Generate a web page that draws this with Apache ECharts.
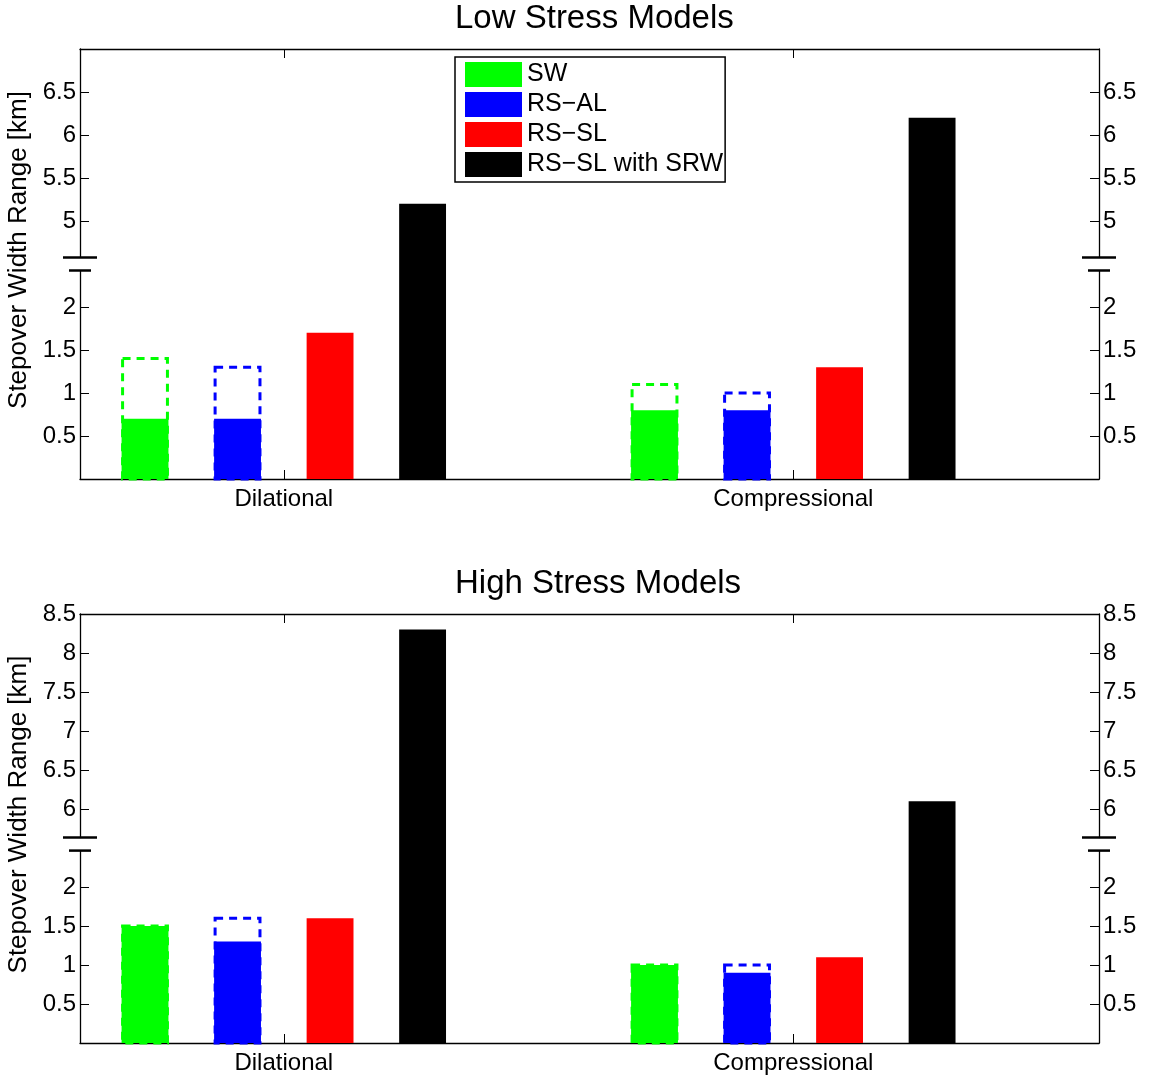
<!DOCTYPE html>
<html>
<head>
<meta charset="utf-8">
<script src="https://cdn.jsdelivr.net/npm/echarts@6.0.0/dist/echarts.min.js"></script>
<style>
html, body {margin: 0; padding: 0; background: #fff;}
#chart {width: 1152px; height: 1078px;}
</style>
</head>
<body>
<div id="chart"></div>
<script>
var categories = ['Dilational', 'Compressional'];
var seriesNames = ['SW', 'RS\u2212AL', 'RS\u2212SL', 'RS\u2212SL with SRW'];
var seriesColors = ['#00ff00', '#0000ff', '#ff0000', '#000000'];

// solid bar = lower value, dashed box = upper end of the range (null = no range)
var lowSolid = [[0.7, 0.8], [0.7, 0.8], [1.7, 1.3], [5.2, 6.2]];
var lowDashed = [[1.4, 1.1], [1.3, 1.0], null, null];
var highSolid = [[1.5, 1.0], [1.3, 0.9], [1.6, 1.1], [8.3, 6.1]];
var highDashed = [[1.5, 1.0], [1.6, 1.0], null, null];

var lowTicks = [0.5, 1, 1.5, 2, 5, 5.5, 6, 6.5];
var highTicks = [0.5, 1, 1.5, 2, 6, 6.5, 7, 7.5, 8, 8.5];

// broken y axis: everything above "at" is pulled down by "skip"
var lowBreak = {at: 2.5, skip: 2, top: 7};
var highBreak = {at: 2.55, skip: 3, top: 8.5};

var FONT = '"Liberation Sans", Helvetica, Arial, sans-serif';
var BAR_STEP = 0.1816;
var BAR_W = 0.092;

function toPlot(v, br) { return v > br.at ? v - br.skip : v; }
function toReal(p, br) { return p > br.at ? p + br.skip : p; }

var chart = echarts.init(document.getElementById('chart'));

function makeAxes(gi, br, ticks) {
    var yMax = br.top - br.skip;
    var tickPos = ticks.map(function (t) { return toPlot(t, br); });
    var line = {show: true, onZero: false, lineStyle: {color: '#000', width: 1.3}};
    var xs = [false, true].map(function (isTop) {
        return {
            gridIndex: gi, type: 'value', min: 0.6, max: 2.6,
            position: isTop ? 'top' : 'bottom',
            axisLine: line,
            axisTick: {show: true, inside: true, length: 9, customValues: [1, 2], lineStyle: {color: '#000'}},
            axisLabel: {
                show: !isTop, customValues: [1, 2], margin: 8,
                fontSize: 24, color: '#000', fontFamily: FONT,
                formatter: function (v) { return categories[Math.round(v) - 1]; }
            },
            splitLine: {show: false}
        };
    });
    var ys = ['left', 'right'].map(function (side) {
        return {
            gridIndex: gi, type: 'value', min: 0, max: yMax, interval: 0.5,
            position: side,
            name: side === 'left' ? 'Stepover Width Range [km]' : '',
            nameLocation: 'middle', nameGap: 43,
            nameTextStyle: {fontSize: 26, color: '#000', fontFamily: FONT, padding: [0, 0, 0, 28]},
            axisLine: line,
            axisTick: {show: true, inside: true, length: 9, customValues: tickPos, lineStyle: {color: '#000'}},
            axisLabel: {
                customValues: tickPos, margin: 4,
                fontSize: 24, color: '#000', fontFamily: FONT,
                formatter: function (v) { return String(Math.round(toReal(v, br) * 10) / 10); }
            },
            splitLine: {show: false}
        };
    });
    return {x: xs, y: ys};
}

function makeSeries(gi, br, solid, dashed) {
    return seriesNames.map(function (name, j) {
        var data = categories.map(function (c, i) {
            return [i, toPlot(solid[j][i], br), dashed[j] ? toPlot(dashed[j][i], br) : -1];
        });
        var color = seriesColors[j];
        return {
            type: 'custom', name: name,
            xAxisIndex: gi * 2, yAxisIndex: gi * 2,
            itemStyle: {color: color},
            encode: {x: 0, y: [1, 2]},
            data: data,
            renderItem: function (params, api) {
                var cx = api.value(0) + 1 + (j - 1.5) * BAR_STEP;
                var lo = api.value(1), hi = api.value(2);
                var base = api.coord([cx - BAR_W / 2, 0]);
                var tip = api.coord([cx + BAR_W / 2, lo]);
                var w = tip[0] - base[0];
                var kids = [{
                    type: 'rect',
                    shape: {x: base[0], y: tip[1], width: w, height: base[1] - tip[1]},
                    style: {fill: color}
                }];
                if (hi > 0) {
                    var top = api.coord([cx, hi]);
                    kids.push({
                        type: 'rect',
                        shape: {x: base[0] + 1, y: top[1], width: w - 2, height: base[1] - top[1]},
                        style: {fill: 'none', stroke: color, lineWidth: 3, lineDash: [8, 6]}
                    });
                }
                return {type: 'group', children: kids};
            }
        };
    });
}

var lowAxes = makeAxes(0, lowBreak, lowTicks);
var highAxes = makeAxes(1, highBreak, highTicks);

chart.setOption({
    animation: false,
    backgroundColor: '#fff',
    textStyle: {fontFamily: FONT},
    title: [
        {text: 'Low Stress Models', left: 450, top: -3, textStyle: {fontSize: 33, fontWeight: 'normal', color: '#000', fontFamily: FONT}},
        {text: 'High Stress Models', left: 450, top: 562, textStyle: {fontSize: 33, fontWeight: 'normal', color: '#000', fontFamily: FONT}}
    ],
    legend: {
        orient: 'vertical', left: 455, top: 57,
        data: seriesNames.map(function (n, i) {
            return {name: n, icon: 'rect', itemStyle: {color: seriesColors[i]}};
        }),
        itemWidth: 57, itemHeight: 25, itemGap: 5,
        padding: [5, 2, 5, 10],
        borderColor: '#000', borderWidth: 1.5, backgroundColor: '#fff',
        selectedMode: false,
        textStyle: {fontSize: 25, color: '#000', fontFamily: FONT}
    },
    grid: [
        {left: 80, top: 49, width: 1019, height: 430, outerBoundsMode: 'none', containLabel: false},
        {left: 80, top: 614, width: 1019, height: 429, outerBoundsMode: 'none', containLabel: false}
    ],
    xAxis: lowAxes.x.concat(highAxes.x),
    yAxis: lowAxes.y.concat(highAxes.y),
    series: makeSeries(0, lowBreak, lowSolid, lowDashed).concat(makeSeries(1, highBreak, highSolid, highDashed))
});

// break marks on both vertical axes
function breakMarks(gi, br) {
    var els = [];
    [0.6, 2.6].forEach(function (xv) {
        var p = chart.convertToPixel({xAxisIndex: gi * 2, yAxisIndex: gi * 2}, [xv, br.at]);
        els.push({type: 'rect', z: 100, shape: {x: p[0] - 4, y: p[1] - 6, width: 8, height: 12}, style: {fill: '#fff'}});
        els.push({type: 'line', z: 101, shape: {x1: p[0] - 17, y1: p[1] - 6.5, x2: p[0] + 17, y2: p[1] - 6.5}, style: {stroke: '#000', lineWidth: 2.5}});
        els.push({type: 'line', z: 101, shape: {x1: p[0] - 11, y1: p[1] + 6.5, x2: p[0] + 11, y2: p[1] + 6.5}, style: {stroke: '#000', lineWidth: 2.5}});
    });
    return els;
}

chart.setOption({graphic: breakMarks(0, lowBreak).concat(breakMarks(1, highBreak))});
</script>
</body>
</html>
